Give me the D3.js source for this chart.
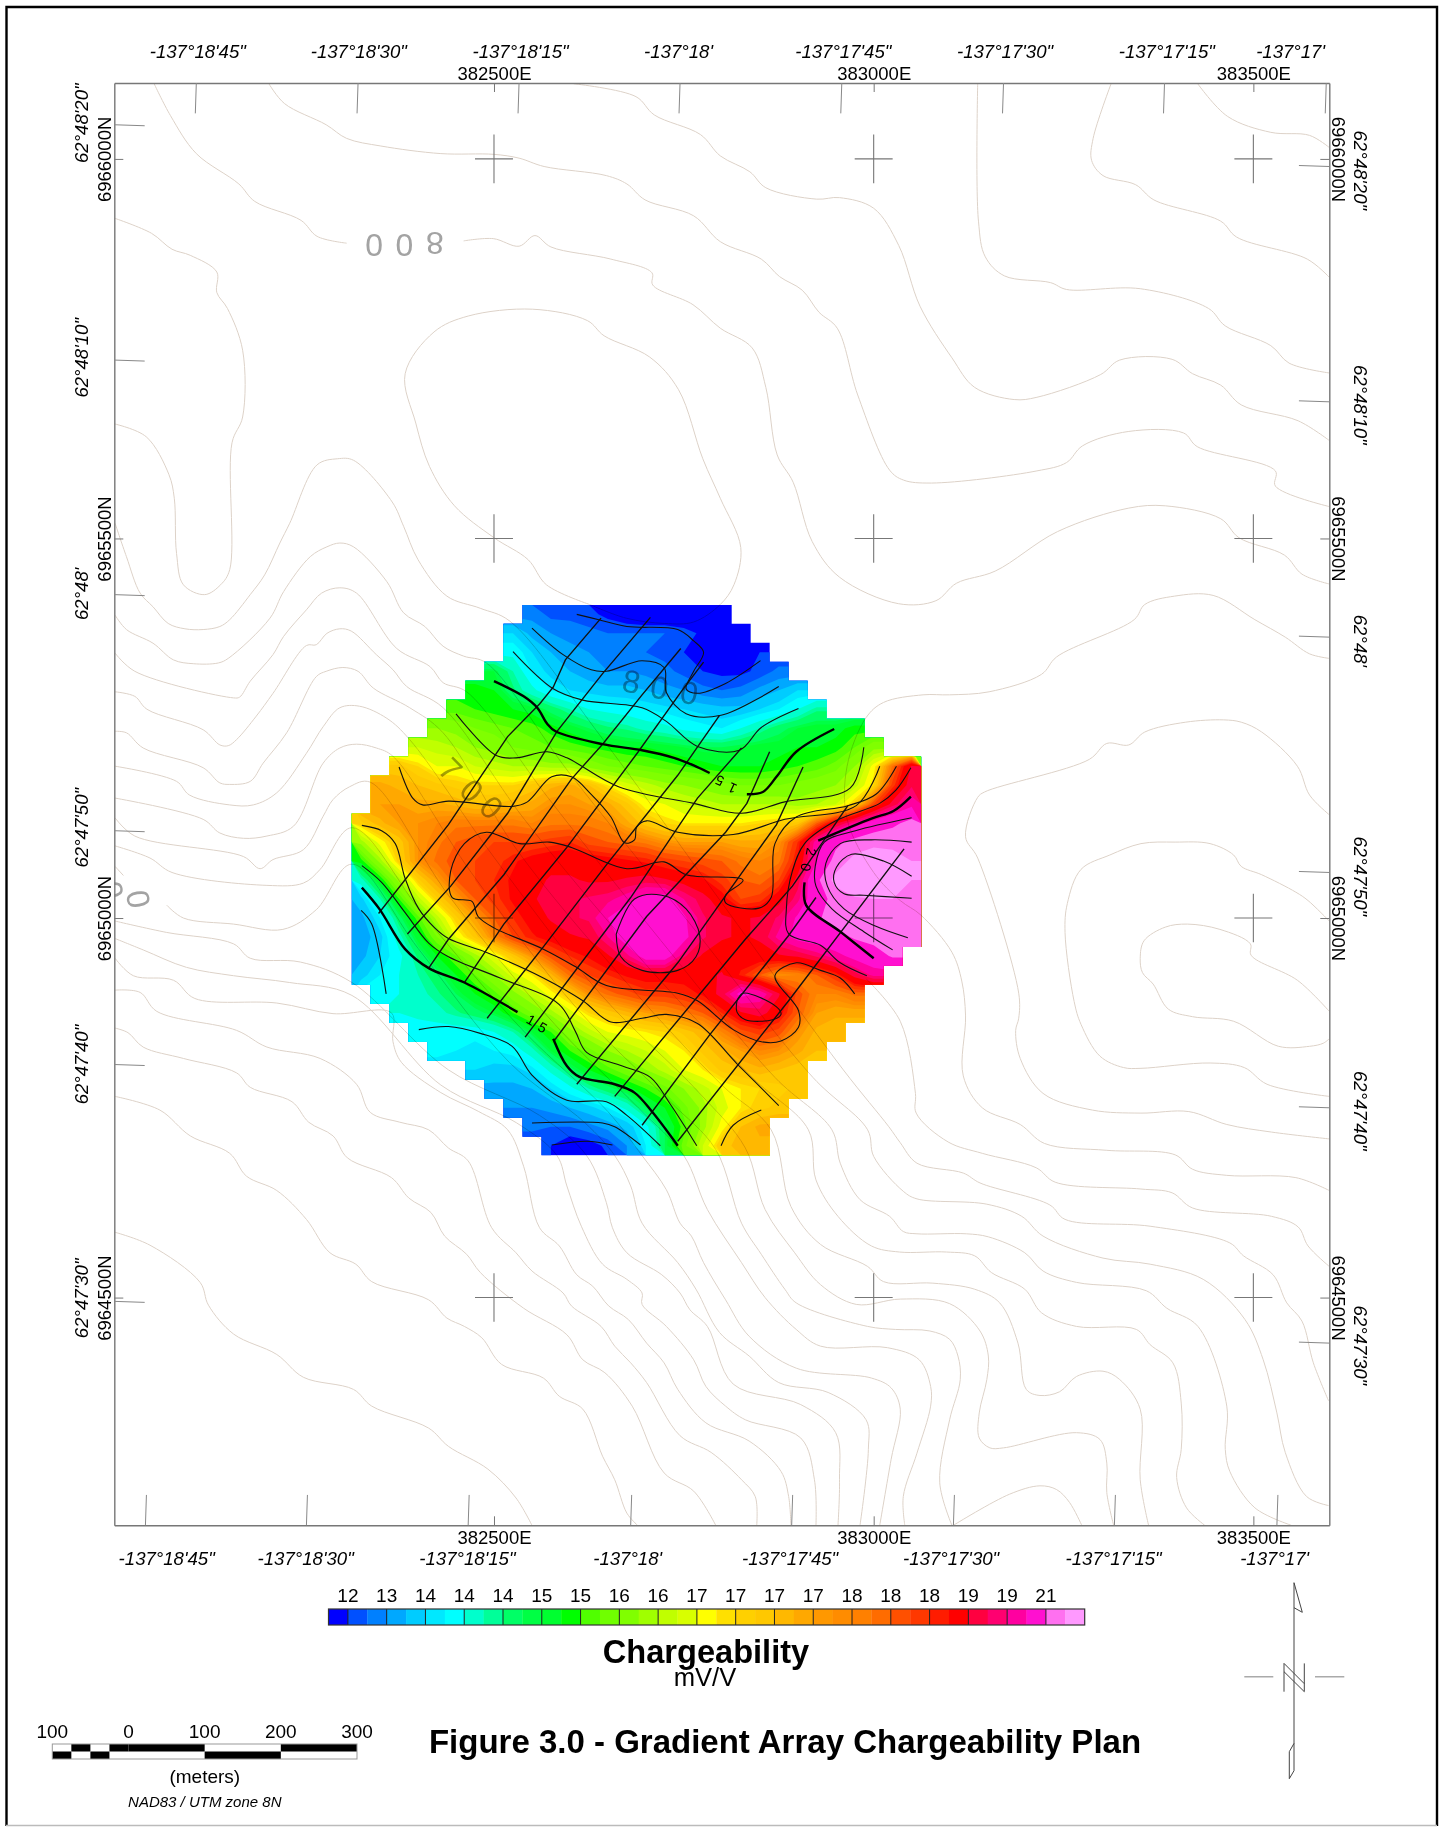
<!DOCTYPE html>
<html>
<head>
<meta charset="utf-8">
<script src="https://d3js.org/d3.v7.min.js"></script>
<style>
  body { margin: 0; background: #fff; }
  text { font-family: "Liberation Sans", Arial, sans-serif; fill: #000; }
  .blend { mix-blend-mode: multiply; }
</style>
</head>
<body>
<div id="canvas"></div>
<script>
// all map positions are metres east of 382000E / north of 6964000N
const originE = 382000;
const originN = 6964000;

const utmEast = [500, 1000, 1500];
const utmNorth = [2000, 1500, 1000, 500];

const lonTop = [108, 321, 533, 745, 958, 1171, 1383, 1596];
const lonBottom = [41, 253, 466, 680, 892, 1105, 1317, 1531];
const latLeft = [2045, 1735, 1426, 1115, 807, 495];
const latRight = [1990, 1680, 1370, 1060, 750, 440];

const lonLabelsTop = [[110, "-137°18'45\""], [322, "-137°18'30\""], [535, "-137°18'15\""], [743, "-137°18'"], [960, "-137°17'45\""], [1173, "-137°17'30\""], [1386, "-137°17'15\""], [1549, "-137°17'"]];
const lonLabelsBottom = [[69, "-137°18'45\""], [252, "-137°18'30\""], [465, "-137°18'15\""], [676, "-137°18'"], [890, "-137°17'45\""], [1102, "-137°17'30\""], [1316, "-137°17'15\""], [1528, "-137°17'"]];
const latLabelsLeft = [[2047, "62°48'20\""], [1738, "62°48'10\""], [1427, "62°48'"], [1119, "62°47'50\""], [807, "62°47'40\""], [499, "62°47'30\""]];
const latLabelsRight = [[1985, "62°48'20\""], [1676, "62°48'10\""], [1365, "62°48'"], [1055, "62°47'50\""], [746, "62°47'40\""], [437, "62°47'30\""]];

// chargeability (mV/V) on the 25 m grid, one row per line, north to south
const gridE0 = 312.5;
const gridN0 = 1412.5;
const gridStep = 25;
const gridCols = 30;
const rowStart = [9, 8, 8, 7, 6, 5, 4, 3, 2, 1, 1, 0, 0, 0, 0, 0, 0, 0, 0, 0, 1, 2, 3, 4, 6, 7, 8, 9, 10];
const chargeRows = [
  [12.8,12.5,12.5,12.4,12.2,12.0,11.9,11.9,11.8,11.8,11.7],
  [13.5,13.1,12.9,12.8,12.7,12.6,12.6,12.6,12.6,12.5,12.2,12.0,11.9],
  [13.9,13.5,13.2,13.0,12.9,12.8,12.7,12.6,12.5,12.3,12.0,11.9,12.0,12.3],
  [14.8,14.3,13.7,13.4,13.2,13.0,12.9,12.9,12.8,12.7,12.5,12.3,12.2,12.2,12.4,12.7],
  [15.1,15.0,14.5,14.1,13.7,13.5,13.4,13.3,13.3,13.2,13.0,12.9,12.7,12.6,12.7,13.0,13.2,13.5],
  [15.3,15.2,15.1,15.0,14.9,14.6,14.3,14.0,13.9,13.8,13.7,13.6,13.5,13.4,13.3,13.3,13.5,13.7,14.0,14.4],
  [15.9,15.8,15.6,15.5,15.4,15.3,15.1,14.9,14.7,14.5,14.4,14.2,14.1,13.9,13.8,13.7,14.0,14.3,14.6,14.8,14.9,14.9,15.1],
  [16.3,16.2,16.1,15.9,15.8,15.6,15.5,15.4,15.3,15.2,15.1,15.0,15.0,14.9,14.8,14.7,14.7,14.8,14.9,14.9,15.0,15.0,15.1,15.4,15.8],
  [17.0,16.8,16.5,16.5,16.3,16.2,16.1,16.1,16.0,16.0,15.8,15.6,15.5,15.4,15.3,15.2,15.1,15.0,15.0,15.0,15.1,15.2,15.3,15.5,15.9,16.6,17.8,18.9],
  [17.3,17.2,17.1,17.0,16.9,16.8,16.8,16.8,17.0,17.2,17.3,17.1,16.7,16.4,16.2,16.0,15.9,15.8,15.7,15.6,15.6,15.6,15.7,15.8,15.9,16.2,16.8,18.2,19.1],
  [17.4,17.4,17.3,17.3,17.2,17.1,17.1,17.2,17.3,17.5,17.5,17.4,17.3,17.0,16.6,16.5,16.3,16.2,16.1,16.1,16.1,16.1,16.0,16.1,16.3,16.9,18.1,19.0,19.6],
  [16.9,17.2,17.4,17.5,17.6,17.7,17.7,17.7,17.7,17.6,17.7,17.7,17.7,17.6,17.3,17.0,16.8,16.7,16.7,16.7,16.7,16.8,16.9,17.0,17.9,18.8,19.5,20.1,20.5,21.0],
  [16.0,16.6,17.0,17.5,17.7,17.9,18.0,18.1,18.1,18.1,18.2,18.3,18.0,17.9,17.8,17.7,17.5,17.4,17.4,17.4,17.3,17.3,17.5,18.3,19.6,20.5,21.0,21.3,21.3,21.2],
  [15.1,16.0,16.9,17.5,17.8,18.0,18.1,18.2,18.4,18.6,18.7,18.7,18.7,18.6,18.5,18.4,18.2,18.1,18.0,17.9,17.7,17.6,17.7,18.5,19.8,21.0,21.8,22.0,21.8,21.5],
  [14.2,15.0,16.0,16.9,17.4,17.9,18.1,18.3,18.5,18.7,18.9,18.9,18.8,18.8,18.9,19.0,18.9,18.7,18.5,18.2,17.9,17.8,18.1,19.0,20.5,21.8,22.2,22.2,21.8,21.5],
  [13.4,14.3,15.2,16.2,16.9,17.4,17.9,18.2,18.5,18.8,19.0,19.1,19.2,19.3,19.6,20.1,20.1,19.4,19.0,18.6,18.1,18.2,18.7,19.3,20.3,21.0,21.4,21.5,21.5,21.4],
  [13.1,13.7,14.6,15.3,16.2,16.9,17.4,17.9,18.3,18.6,18.9,19.1,19.2,19.8,20.3,20.7,20.6,19.9,19.2,18.9,18.8,18.9,19.2,19.9,20.6,21.0,21.1,21.1,21.1,21.1],
  [13.0,13.4,14.2,14.9,15.6,16.5,17.0,17.6,18.1,18.4,18.6,18.8,18.9,19.4,20.2,20.6,20.6,20.0,19.2,18.9,18.8,18.9,19.5,20.0,20.2,20.4,20.8,21.0,21.0,21.1],
  [13.1,13.5,13.9,14.5,15.0,15.4,16.0,16.5,17.0,17.5,18.0,18.3,18.5,18.8,19.3,20.1,20.1,19.2,18.8,18.6,18.6,18.7,18.8,18.9,19.2,19.6,20.0,20.3,20.8],
  [13.4,13.7,14.0,14.3,14.6,15.0,15.4,15.9,16.4,16.7,17.2,17.8,18.1,18.3,18.5,18.6,18.6,18.6,18.7,18.9,18.4,17.9,17.5,17.6,17.9,18.3,19.0,19.5],
  [13.8,14.0,14.2,14.4,14.7,15.0,15.3,15.8,16.2,16.6,17.0,17.5,17.8,18.0,18.2,18.2,18.3,18.5,19.0,20.0,19.7,18.9,18.0,17.6,17.6,17.8],
  [14.0,14.1,14.2,14.4,14.6,14.8,15.2,15.6,16.0,16.4,16.8,17.0,17.2,17.4,17.5,17.7,17.9,18.3,18.8,19.0,18.6,17.9,17.4,17.3,17.3],
  [13.8,13.8,13.8,13.8,14.0,14.3,14.8,15.2,15.8,16.2,16.5,16.6,16.7,16.8,17.0,17.2,17.6,18.0,18.2,18.0,17.5,17.2,17.1],
  [13.8,13.7,13.6,13.7,13.8,14.2,14.8,15.2,15.5,15.9,16.1,16.3,16.5,16.7,17.0,17.2,17.4,17.6,17.5,17.3,17.1],
  [13.5,13.4,13.4,13.6,14.1,14.6,15.0,15.3,15.6,15.9,16.2,16.5,16.7,17.0,17.1,17.2,17.1,17.0],
  [13.1,13.1,13.2,13.5,13.9,14.3,14.6,14.9,15.2,15.5,15.9,16.2,16.5,16.7,16.8,16.9,17.0],
  [12.9,12.9,13.0,13.2,13.4,13.7,14.1,14.7,15.0,15.5,16.0,16.4,16.7,16.9,17.0],
  [12.7,12.6,12.6,12.8,13.0,13.3,13.9,14.7,15.3,16.0,16.6,17.1,17.3],
  [12.3,12.0,12.1,12.4,12.9,13.7,14.7,15.5,16.3,17.0,17.2,17.2]
];

// colour classes, one more colour than class breaks
const classBreaks = [12.3,12.6,12.9,13.2,13.5,13.7,14.0,14.3,14.45,14.7,14.8,15.0,15.2,15.4,15.6,15.9,16.1,16.3,16.5,16.7,16.8,16.95,17.1,17.25,17.4,17.5,17.6,17.75,17.9,18.1,18.3,18.45,18.85,19.15,19.4,19.8,20.7,21.5];
const classColours = ["#0000ff","#0050ff","#0080ff","#00a8ff","#00ccff","#00e8ff","#00ffff","#00ffcc","#00ff99","#00ff66","#00ff44","#00ff30","#00ff00","#50ff00","#70ff00","#80ff00","#a0ff00","#c0ff00","#d8ff00","#ffff00","#ffe000","#ffd000","#ffc800","#ffb800","#ffa800","#ff9800","#ff8c00","#ff8000","#ff6c00","#ff5000","#ff3800","#ff1c00","#ff0000","#ff0040","#ff0070","#ff00a0","#ff10d0","#ff70f0","#ff99ff"];
const legendLabels = ["12","13","14","14","14","15","15","16","16","17","17","17","17","18","18","18","19","19","21"];

// topographic contours
const topoLines = [
  [[1426,2100],[1466,2056],[1523,2035],[1574,2031],[1600,2015]],
  [[1313,2100],[1289,2027],[1287,1998],[1302,1978],[1345,1966],[1369,1946],[1457,1918],[1478,1897],[1571,1868],[1600,1844]],
  [[1137,2100],[1138,1918],[1147,1871],[1172,1846],[1233,1837],[1254,1828],[1351,1829],[1441,1803],[1463,1780],[1523,1754],[1547,1731],[1600,1718]],
  [[605,2099],[687,2082],[711,2058],[772,2032],[798,2004],[837,1983],[858,1962],[925,1947],[955,1949],[1000,1935],[1033,1886],[1061,1806],[1103,1738],[1133,1699],[1185,1683],[1215,1686],[1299,1716],[1324,1735],[1393,1736],[1420,1717],[1457,1702],[1484,1676],[1559,1655],[1600,1629]],
  [[203,2100],[224,2073],[279,2045],[306,2027],[351,2017],[430,2007],[500,2006],[533,2001],[566,1990],[648,1978],[675,1967],[699,1946],[763,1925],[798,1891],[852,1868],[876,1845],[906,1827],[928,1798],[952,1777],[979,1689],[1021,1590],[1039,1577],[1076,1573],[1215,1589],[1254,1600],[1275,1622],[1336,1641],[1408,1639],[1426,1621],[1529,1589],[1529,1569],[1600,1542]],
  [[52,2100],[74,2057],[108,2007],[164,1967],[185,1944],[246,1919],[267,1898],[306,1889]],
  [[460,1892],[499,1895],[533,1885],[554,1899],[575,1884],[654,1868],[708,1850],[709,1834],[762,1808],[798,1777],[840,1751],[858,1699],[873,1610],[894,1574],[919,1496],[955,1449],[1033,1414],[1082,1418],[1109,1441],[1160,1457],[1242,1509],[1336,1540],[1384,1543],[1457,1526],[1481,1501],[1541,1478],[1564,1453],[1600,1440]],
  [[0,1922],[49,1902],[76,1881],[100,1873],[135,1851],[135,1824],[149,1803],[169,1748],[169,1660],[155,1626],[152,1459],[140,1439],[119,1426],[91,1439],[82,1480],[79,1553],[72,1584],[42,1634],[0,1651]],
  [[626,1413],[569,1439],[545,1472],[500,1501],[448,1543],[415,1595],[397,1652],[383,1717],[421,1772],[466,1793],[551,1802],[623,1787],[645,1767],[705,1739],[743,1696],[775,1605],[798,1553],[825,1488],[816,1439],[798,1413],[763,1390],[725,1388],[674,1395],[626,1413]],
  [[1,1520],[16,1476],[34,1428],[51,1410],[71,1388],[93,1381],[117,1380],[139,1384],[152,1393],[179,1426],[198,1452],[218,1494],[231,1520],[267,1597],[294,1605],[315,1603],[366,1548],[381,1516],[400,1472],[438,1424],[482,1408],[521,1391],[640,1240],[800,1020],[960,800],[1020,725],[1035,704],[1057,677],[1118,664],[1140,651],[1232,622],[1252,603],[1364,594],[1469,572],[1487,555],[1526,530],[1544,493],[1564,469],[1579,414],[1599,364]],
  [[1,1399],[16,1380],[51,1362],[78,1340],[104,1335],[137,1336],[150,1342],[205,1395],[223,1430],[258,1476],[280,1489],[297,1494],[315,1489],[359,1443],[381,1402],[409,1384],[433,1358],[460,1345],[490,1336],[600,1190],[760,990],[920,790],[992,721],[1000,686],[1039,640],[1057,630],[1149,623],[1195,607],[1223,581],[1302,552],[1364,544],[1434,524],[1489,471],[1513,418],[1531,348],[1542,296],[1570,238],[1599,226]],
  [[1,1349],[27,1325],[157,1290],[165,1291],[179,1312],[209,1347],[223,1371],[253,1406],[273,1428],[297,1435],[319,1428],[372,1355],[416,1331],[433,1310],[464,1298],[570,1160],[720,970],[870,790],[945,721],[956,677],[982,629],[1021,607],[1039,587],[1057,584],[1122,584],[1151,580],[1199,559],[1223,535],[1267,520],[1359,509],[1386,486],[1427,462],[1465,357],[1463,300],[1469,271],[1502,223],[1550,200]],
  [[1,1298],[27,1292],[43,1275],[117,1248],[139,1228],[150,1227],[161,1235],[187,1266],[209,1296],[253,1359],[266,1360],[280,1375],[297,1381],[312,1378],[345,1347],[367,1327],[385,1305],[433,1277],[540,1130],[690,950],[840,790],[914,721],[924,655],[953,607],[997,568],[1034,560],[1096,560],[1133,555],[1155,533],[1199,511],[1221,480],[1267,462],[1346,458],[1364,438],[1394,414],[1405,361],[1405,300],[1399,263],[1412,223],[1436,200]],
  [[1,1246],[16,1244],[38,1224],[117,1198],[139,1178],[152,1176],[179,1180],[196,1204],[227,1244],[266,1318],[279,1325],[301,1330],[321,1325],[341,1303],[389,1277],[433,1244],[530,1090],[670,920],[800,780],[865,721],[891,620],[930,570],[992,541],[1013,521],[1078,519],[1133,511],[1166,493],[1190,440],[1201,379],[1219,371],[1245,376],[1267,396],[1302,403],[1324,392],[1351,353],[1351,260],[1362,200]],
  [[1,1200],[82,1180],[99,1162],[152,1149],[183,1149],[214,1165],[253,1217],[275,1252],[297,1277],[323,1279],[359,1263],[389,1235],[500,1080],[640,900],[770,770],[831,697],[857,616],[896,559],[930,517],[977,491],[1035,498],[1100,492],[1140,456],[1151,423],[1149,392],[1139,348],[1139,315],[1153,302],[1171,302],[1267,322],[1298,313],[1307,282],[1307,243],[1316,200]],
  [[1,1158],[117,1130],[139,1112],[170,1105],[201,1108],[236,1121],[275,1204],[297,1224],[319,1229],[345,1224],[367,1213],[470,1060],[610,880],[730,760],[792,695],[826,598],[852,557],[883,511],[898,493],[992,462],[1029,458],[1074,456],[1100,445],[1111,423],[1114,392],[1100,339],[1087,256],[1103,200]],
  [[1105,200],[1179,241],[1219,252],[1241,247],[1258,230],[1274,200]],
  [[1,1132],[27,1108],[170,1081],[192,1065],[209,1077],[249,1090],[275,1134],[288,1156],[310,1173],[337,1179],[440,1030],[580,860],[690,750],[750,687],[781,616],[826,546],[857,500],[898,458],[930,436],[1018,434],[1060,418],[1075,383],[1075,357],[1057,295],[1039,238],[1041,200]],
  [[1,1095],[47,1079],[76,1060],[201,1043],[249,1046],[271,1064],[313,1119],[410,1000],[540,850],[650,745],[695,687],[727,642],[745,598],[760,581],[776,546],[805,497],[836,449],[898,407],[997,394],[1023,381],[1035,353],[1023,287],[1008,200]],
  [[1,1068],[12,1056]],
  [[69,1017],[91,1000],[157,992],[222,985],[266,1011],[313,1071],[400,960],[520,810],[620,730],[659,687],[680,647],[695,598],[742,546],[766,511],[797,454],[836,423],[875,388],[940,375],[990,339],[993,300],[982,200]],
  [[1,996],[69,981],[157,966],[179,947],[245,942],[313,915],[440,800],[560,740],[622,687],[648,625],[656,592],[675,559],[721,530],[745,506],[758,484],[781,462],[815,386],[904,359],[950,322],[955,260],[953,200]],
  [[1,973],[38,958],[95,935],[157,924],[231,915],[313,898],[430,780],[530,730],[583,687],[596,647],[615,594],[643,544],[675,524],[695,506],[695,491],[727,462],[763,418],[779,383],[805,357],[831,339],[904,315],[922,260],[924,200]],
  [[1,947],[25,924],[78,918],[106,894],[214,888],[288,874],[365,875],[367,837],[378,810],[430,770],[480,745],[518,721],[539,673],[560,592],[586,568],[609,530],[630,515],[651,489],[677,471],[701,440],[724,414],[742,379],[779,335],[836,311],[878,271],[888,238],[891,200]],
  [[1,905],[34,902],[56,877],[161,852],[201,830],[271,815],[319,781],[337,744],[376,731],[414,721],[440,697],[466,680],[497,592],[529,559],[550,535],[591,506],[602,489],[641,462],[659,436],[680,414],[701,388],[745,318],[786,296],[826,260],[844,238],[846,200]],
  [[1,855],[18,849],[38,830],[91,815],[161,796],[179,777],[234,758],[256,731],[288,713],[307,684],[365,658],[388,631],[417,612],[435,581],[464,557],[482,533],[539,486],[596,451],[617,418],[646,401],[682,357],[724,269],[763,245],[792,200]],
  [[1,765],[60,747],[100,713],[152,690],[174,660],[214,641],[253,603],[284,559],[318,544],[339,521],[414,497],[438,473],[461,462],[484,447],[510,412],[565,394],[586,370],[617,353],[643,291],[659,260],[675,216],[689,200]],
  [[1,586],[47,569],[113,520],[124,490],[157,452],[214,425],[249,395],[315,379],[339,357],[414,328],[440,304],[492,274],[529,236],[550,200]],
  [[1600,1342],[1574,1348],[1542,1370],[1502,1393],[1447,1425],[1396,1424],[1357,1413],[1343,1393],[1241,1344],[1221,1321],[1152,1298],[1100,1294],[1065,1294],[1013,1284],[990,1264],[965,1200],[965,1130],[1000,1060],[1035,1023],[1062,1004],[1103,955],[1116,917],[1121,871],[1118,792],[1143,750],[1193,728],[1225,703],[1307,694],[1397,688],[1420,669],[1465,661],[1556,658],[1600,641]],
  [[990,920],[1035,864],[1055,769],[1056,743],[1098,705],[1143,690],[1214,671],[1239,652],[1352,643],[1393,638],[1420,618],[1524,607],[1559,593],[1572,568],[1600,541]],
  [[1600,1136],[1574,1162],[1558,1200],[1511,1245],[1484,1258],[1461,1261],[1411,1258],[1357,1245],[1336,1228],[1307,1230],[1284,1209],[1146,1166],[1137,1159],[1121,1107],[1137,1079],[1191,901],[1191,868],[1187,852],[1193,815],[1223,769],[1288,747],[1352,743],[1415,745],[1465,728],[1524,718],[1600,709]],
  [[1600,996],[1572,1023],[1556,1034],[1511,1057],[1484,1068],[1474,1083],[1443,1098],[1397,1100],[1352,1098],[1311,1083],[1273,1064],[1255,1019],[1252,981],[1264,890],[1273,860],[1298,818],[1329,803],[1352,802],[1443,809],[1488,803],[1518,781],[1600,765]],
  [[1600,877],[1558,918],[1497,951],[1496,966],[1456,985],[1413,992],[1384,988],[1356,970],[1351,947],[1354,928],[1368,913],[1388,880],[1420,870],[1474,864],[1533,831],[1574,831],[1592,835],[1600,841]]
];

// geophysical survey lines
const surveyLines = [
  [[348,1006],[440,1123],[518,1239],[560,1282],[578,1304],[594,1340],[641,1395]],
  [[386,979],[443,1042],[518,1138],[583,1246],[643,1322],[706,1396]],
  [[414,934],[440,972],[513,1057],[602,1183],[643,1229],[695,1294],[746,1355]],
  [[461,915],[513,992],[596,1093],[690,1219],[747,1299],[776,1337]],
  [[491,868],[565,962],[648,1070],[742,1188],[797,1267]],
  [[541,843],[680,1027],[768,1158],[826,1224]],
  [[579,838],[701,1002],[805,1113],[833,1151],[863,1219]],
  [[609,781],[742,941],[836,1073],[872,1123],[907,1199]],
  [[659,765],[831,972],[893,1042],[966,1148]],
  [[695,727],[784,846],[888,977],[924,1027]],
  [[742,706],[888,891],[1040,1091]]
];

// chargeability contours, heavy every 5 mV/V
const heavyContours = [
  [[500,1312],[539,1292],[557,1277],[570,1256],[581,1246],[643,1229],[695,1221],[737,1211],[763,1201],[784,1191]],
  [[833,1163],[854,1166],[872,1186],[898,1219],[948,1249]],
  [[326,1040],[349,1012],[383,959],[414,934],[461,915],[531,876]],
  [[578,841],[596,805],[612,791],[659,781],[685,770],[708,745],[742,700]],
  [[927,1102],[997,1131],[1026,1141],[1049,1160]],
  [[909,1047],[911,1017],[956,982],[1000,947]]
];
const lightContours = [
  [[609,1400],[638,1393],[675,1384],[742,1380],[763,1365],[776,1350],[763,1325],[753,1302],[768,1296],[805,1309],[851,1339]],
  [[550,1382],[591,1347],[628,1327],[648,1325],[695,1339],[724,1330],[727,1297],[753,1269],[799,1267],[875,1305]],
  [[525,1351],[578,1302],[617,1287],[695,1277],[727,1259],[768,1226],[823,1221],[852,1251],[901,1276]],
  [[450,1269],[503,1214],[529,1211],[570,1219],[596,1211],[664,1173],[763,1151],[826,1138],[883,1153],[969,1171],[987,1225]],
  [[375,1199],[393,1158],[406,1149],[440,1154],[524,1147],[544,1153],[576,1186],[602,1186],[628,1163],[654,1133],[672,1099],[685,1103],[688,1120],[701,1128],[742,1113],[815,1110],[883,1130],[977,1148],[1008,1200]],
  [[1030,1200],[1003,1163],[966,1148],[898,1133],[870,1098],[865,1027],[849,1013],[805,1020],[805,1030],[828,1050],[753,1057],[724,1074],[675,1065],[602,1093],[573,1100],[534,1098],[490,1113],[461,1098],[443,1062],[445,1027],[471,1022],[479,1002],[500,987],[565,959],[607,936],[648,911],[742,901],[768,891],[815,853],[852,837],[878,838],[901,856],[901,878],[870,924],[898,941],[930,931],[956,921],[975,900]],
  [[326,1122],[352,1115],[370,1098],[383,1052],[401,1012],[422,987],[440,973],[492,954],[565,921],[617,891],[654,863],[695,868],[727,873],[768,861],[820,808],[875,753]],
  [[326,1069],[352,1047],[383,1007],[414,967],[440,949],[508,921],[586,886],[607,851],[622,823],[669,805],[706,790],[732,755],[767,700]],
  [[325,1010],[339,992],[358,900]],
  [[401,853],[440,857],[482,848],[524,831],[550,793],[596,760],[648,758],[675,740],[719,700]],
  [[550,730],[643,730],[659,725],[693,701]],
  [[576,701],[622,706],[656,701]],
  [[799,700],[815,727],[852,747]],
  [[661,979],[685,1025],[721,1030],[753,1012],[771,977],[766,949],[742,931],[695,931],[667,949],[661,979]],
  [[820,891],[828,901],[872,883],[878,873],[867,866],[831,866],[820,876],[820,891]],
  [[1049,1198],[1029,1168],[1008,1151],[950,1128],[909,1098],[893,1062],[885,1012],[888,979],[930,964],[956,941],[991,924]],
  [[1050,1132],[976,1115],[935,1100],[923,1068],[924,1042],[945,1012],[987,982],[1025,958]],
  [[1050,1100],[997,1103],[956,1098],[937,1072],[939,1042],[961,1012],[1003,989],[1045,974]],
  [[1050,1055],[1013,1075],[971,1084],[951,1067],[948,1047],[961,1032],[987,1030],[1050,1026]]
];

// label text, east, north, rotation
const contourLabels = [["5",797,1181,205],["1",814,1171,205],["2",918,1087,100],["0",911,1067,100],["1",549,866,30],["5",564,856,30]];
const topoLabels = [["0",342,1886,180],["0",382,1886,180],["8",422,1888,180],["8",681,1312,10],["0",718,1304,10],["0",757,1297,10],["7",443,1196,45],["0",471,1168,45],["0",497,1146,45],["0",32,1025,80],["0",-3,1037,80]];

const scaleTicks = [-100, 0, 100, 200, 300];
const scaleChecks = [-100, -75, -50, -25];
const scaleBlocks = [0, 100, 200];

const w = 1440;
const h = 1827;
const plot = { left: 114.3, right: 1329.3, top: 83, bottom: 1525.3 };

const svg = d3.select("#canvas").append("svg").attr("width", w).attr("height", h).style("display", "block");
svg.append("rect").attr("width", w).attr("height", h).attr("fill", "#fff");

const x = d3.scaleLinear().domain([0, 1600]).range([plot.left, plot.right]);
const y = d3.scaleLinear().domain([2100, 200]).range([plot.top, plot.bottom]);
const line = d3.line().x(d => x(d[0])).y(d => y(d[1])).curve(d3.curveCatmullRom.alpha(0.5));

svg.append("clipPath").attr("id", "plotClip").append("rect")
  .attr("x", plot.left).attr("y", plot.top)
  .attr("width", plot.right - plot.left).attr("height", plot.bottom - plot.top);

// heat map: filled bands from the grid, cut to the surveyed cells
const gridRows = chargeRows.length;
const clip = svg.append("clipPath").attr("id", "gridClip");
chargeRows.forEach((row, j) => {
  const e0 = gridE0 + gridStep * rowStart[j];
  const e1 = e0 + gridStep * row.length;
  clip.append("rect")
    .attr("x", x(e0)).attr("y", y(gridN0 - gridStep * j))
    .attr("width", x(e1) - x(e0) + 0.4)
    .attr("height", y(gridN0 - gridStep * (j + 1)) - y(gridN0 - gridStep * j) + 0.4);
});

// cells outside the survey only hold the nearest value so bands run to the edge
const flat = [];
chargeRows.forEach((row, j) => {
  for (let i = 0; i < gridCols; i++) {
    const k = Math.max(0, Math.min(row.length - 1, i - rowStart[j]));
    flat.push(row[k]);
  }
});

const bands = d3.contours().size([gridCols, gridRows]).thresholds(classBreaks)(flat);
const gridPath = d3.geoPath(d3.geoTransform({
  point: function(gx, gy) {
    this.stream.point(x(gridE0 + gridStep * gx), y(gridN0 - gridStep * gy));
  }
}));

const heat = svg.append("g").attr("clip-path", "url(#gridClip)");
heat.append("rect")
  .attr("x", x(gridE0)).attr("y", y(gridN0))
  .attr("width", x(gridE0 + gridStep * gridCols) - x(gridE0))
  .attr("height", y(gridN0 - gridStep * gridRows) - y(gridN0))
  .attr("fill", classColours[0]);
heat.selectAll("path").data(bands).join("path")
  .attr("d", gridPath)
  .attr("fill", (d, i) => classColours[i + 1]);

// topography sits on the colours like an overprint
const over = svg.append("g").attr("class", "blend").attr("clip-path", "url(#plotClip)");
over.selectAll("path.topo").data(topoLines).join("path")
  .attr("class", "topo")
  .attr("d", line)
  .attr("fill", "none")
  .attr("stroke", "#ddd2c8")
  .attr("stroke-width", 1);

over.selectAll("text").data(topoLabels).join("text")
  .attr("transform", d => `translate(${x(d[1])},${y(d[2])}) rotate(${d[3]})`)
  .attr("text-anchor", "middle")
  .attr("dy", "0.36em")
  .style("font-size", "32px")
  .style("fill", "#a3a3a3")
  .text(d => d[0]);

// 500 m grid crosses
const crosses = d3.cross(utmEast, utmNorth);
const crossArm = 25;
over.selectAll("path.cross").data(crosses).join("path")
  .attr("class", "cross")
  .attr("d", d => `M${x(d[0] - crossArm)},${y(d[1])}H${x(d[0] + crossArm)}M${x(d[0])},${y(d[1] + crossArm + 7)}V${y(d[1] - crossArm - 7)}`)
  .attr("fill", "none")
  .attr("stroke", "#777")
  .attr("stroke-width", 1.1);

const map = svg.append("g");
map.selectAll("path.survey").data(surveyLines).join("path")
  .attr("class", "survey")
  .attr("d", d3.line().x(d => x(d[0])).y(d => y(d[1])))
  .attr("fill", "none").attr("stroke", "#111").attr("stroke-width", 1.4);
map.selectAll("path.light").data(lightContours).join("path")
  .attr("class", "light")
  .attr("d", line)
  .attr("fill", "none").attr("stroke", "#111").attr("stroke-width", 1.1);
map.selectAll("path.heavy").data(heavyContours).join("path")
  .attr("class", "heavy")
  .attr("d", line)
  .attr("fill", "none").attr("stroke", "#000").attr("stroke-width", 2.4);
map.selectAll("text").data(contourLabels).join("text")
  .attr("transform", d => `translate(${x(d[1])},${y(d[2])}) rotate(${d[3]})`)
  .attr("text-anchor", "middle")
  .attr("dy", "0.36em")
  .style("font-size", "14px")
  .text(d => d[0]);

// plot frame, utm axes
const utmE = d => (originE + d) + "E";
const utmN = d => (originN + d) + "N";
function styleAxis(g) {
  g.select(".domain").attr("stroke", "#777").attr("stroke-width", 1.4);
  g.selectAll(".tick line").attr("stroke", "#777");
  g.selectAll(".tick text").style("font-size", "18.5px").style("font-family", "\"Liberation Sans\"").style("fill", "#000");
}
svg.append("g").attr("transform", `translate(0,${plot.top})`)
  .call(d3.axisTop(x).tickValues(utmEast).tickSize(-9).tickPadding(-2).tickFormat(utmE).tickSizeOuter(0))
  .call(styleAxis)
  .selectAll(".tick text").attr("y", -3.5).attr("dy", 0);
svg.append("g").attr("transform", `translate(0,${plot.bottom})`)
  .call(d3.axisBottom(x).tickValues(utmEast).tickSize(-9).tickFormat(utmE).tickSizeOuter(0))
  .call(styleAxis)
  .selectAll(".tick text").attr("y", 19).attr("dy", 0);
svg.append("g").attr("transform", `translate(${plot.left},0)`)
  .call(d3.axisLeft(y).tickValues(utmNorth).tickSize(-9).tickFormat(utmN).tickSizeOuter(0))
  .call(styleAxis)
  .selectAll(".tick text")
  .attr("transform", "rotate(-90)").attr("x", 0).attr("y", -3).attr("dy", 0).attr("text-anchor", "middle");
svg.append("g").attr("transform", `translate(${plot.right},0)`)
  .call(d3.axisRight(y).tickValues(utmNorth).tickSize(-9).tickFormat(utmN).tickSizeOuter(0))
  .call(styleAxis)
  .selectAll(".tick text")
  .attr("transform", "rotate(90)").attr("x", 0).attr("y", -3).attr("dy", 0).attr("text-anchor", "middle");

// geographic ticks
const geoLen = 40;
const ticks = svg.append("g").attr("stroke", "#888").attr("stroke-width", 1);
lonTop.forEach(d => ticks.append("line").attr("x1", x(d)).attr("x2", x(d) - 1).attr("y1", y(2100)).attr("y2", y(2100 - geoLen)));
lonBottom.forEach(d => ticks.append("line").attr("x1", x(d)).attr("x2", x(d) + 1).attr("y1", y(200)).attr("y2", y(200 + geoLen)));
latLeft.forEach(d => ticks.append("line").attr("x1", x(0)).attr("x2", x(geoLen)).attr("y1", y(d)).attr("y2", y(d) + 1));
latRight.forEach(d => ticks.append("line").attr("x1", x(1600)).attr("x2", x(1600 - geoLen)).attr("y1", y(d)).attr("y2", y(d) - 1));

const italic = svg.append("g").style("font-style", "italic").style("font-size", "18.6px").attr("text-anchor", "middle");
lonLabelsTop.forEach(d => italic.append("text").attr("x", x(d[0])).attr("y", 58).text(d[1]));
lonLabelsBottom.forEach(d => italic.append("text").attr("x", x(d[0])).attr("y", 1565).text(d[1]));
latLabelsLeft.forEach(d => italic.append("text").attr("transform", `translate(88,${y(d[0])}) rotate(-90)`).text(d[1]));
latLabelsRight.forEach(d => italic.append("text").attr("transform", `translate(1354,${y(d[0])}) rotate(90)`).text(d[1]));

// colour legend
const legendX = d3.scaleLinear().domain([0, classColours.length]).range([328.5, 1084.7]);
const legend = svg.append("g");
legend.selectAll("rect").data(classColours).join("rect")
  .attr("x", (d, i) => legendX(i)).attr("y", 1609)
  .attr("width", (d, i) => legendX(i + 1) - legendX(i) + 0.3).attr("height", 16)
  .attr("fill", d => d);
legend.selectAll("line").data(legendLabels).join("line")
  .attr("x1", (d, i) => legendX(2 * i + 1)).attr("x2", (d, i) => legendX(2 * i + 1))
  .attr("y1", 1609).attr("y2", 1625).attr("stroke", "#222").attr("stroke-width", 1);
legend.append("rect").attr("x", 328.5).attr("y", 1609).attr("width", 756.2).attr("height", 16)
  .attr("fill", "none").attr("stroke", "#333").attr("stroke-width", 1.2);
legend.selectAll("text").data(legendLabels).join("text")
  .attr("x", (d, i) => legendX(2 * i + 1)).attr("y", 1602)
  .attr("text-anchor", "middle").style("font-size", "19px").text(d => d);

svg.append("text").attr("x", 706).attr("y", 1663).attr("text-anchor", "middle")
  .style("font-size", "32.6px").style("font-weight", "bold").text("Chargeability");
svg.append("text").attr("x", 705).attr("y", 1686).attr("text-anchor", "middle")
  .style("font-size", "25.6px").text("mV/V");
svg.append("text").attr("x", 785).attr("y", 1753).attr("text-anchor", "middle")
  .style("font-size", "33px").style("font-weight", "bold").text("Figure 3.0 - Gradient Array Chargeability Plan");

// scale bar
const barX = d3.scaleLinear().domain([-100, 300]).range([52.3, 357]);
const bar = svg.append("g");
scaleChecks.forEach((d, i) => {
  bar.append("rect").attr("x", barX(d)).attr("y", i % 2 ? 1744 : 1751.5)
    .attr("width", barX(d + 25) - barX(d)).attr("height", 7.5).attr("fill", "#000");
});
scaleBlocks.forEach((d, i) => {
  bar.append("rect").attr("x", barX(d)).attr("y", i % 2 ? 1751.5 : 1744)
    .attr("width", barX(d + 100) - barX(d)).attr("height", 7.5).attr("fill", "#000");
});
bar.append("rect").attr("x", barX(-100)).attr("y", 1744).attr("width", barX(300) - barX(-100)).attr("height", 15)
  .attr("fill", "none").attr("stroke", "#999").attr("stroke-width", 1);
bar.selectAll("text").data(scaleTicks).join("text")
  .attr("x", d => barX(d)).attr("y", 1738).attr("text-anchor", "middle")
  .style("font-size", "19px").text(d => Math.abs(d));
svg.append("text").attr("x", 204.8).attr("y", 1776.7).attr("dy", "0.35em").attr("text-anchor", "middle")
  .style("font-size", "19px").text("(meters)");
svg.append("text").attr("x", 204.8).attr("y", 1801.7).attr("dy", "0.35em").attr("text-anchor", "middle")
  .style("font-size", "15px").style("font-style", "italic").text("NAD83 / UTM zone 8N");

// north arrow
const north = svg.append("g").attr("transform", "translate(1294,1676.7)").attr("fill", "none").attr("stroke", "#444").attr("stroke-width", 1);
north.append("path").attr("d", "M0,-94V94");
north.append("path").attr("d", "M0,-94L8.3,-64.4L0,-69");
north.append("path").attr("d", "M0,66.7L-4.7,75V102L0,94");
north.append("path").attr("d", "M-10,-13.3V15M10.3,-13.3V15M-10,-13.3L10.3,7M-10,-5L10.3,15");
north.append("path").attr("d", "M-49.7,0H-20.7M21,0H50.3").attr("stroke", "#aaa").attr("stroke-width", 1.6);

// page frame
svg.append("path").attr("d", "M6.5,1826V7H1437V1826").attr("fill", "none").attr("stroke", "#000").attr("stroke-width", 2.4);
svg.append("line").attr("x1", 6).attr("x2", 1437).attr("y1", 1825.5).attr("y2", 1825.5).attr("stroke", "#bbb").attr("stroke-width", 1.5);
</script>
</body>
</html>
